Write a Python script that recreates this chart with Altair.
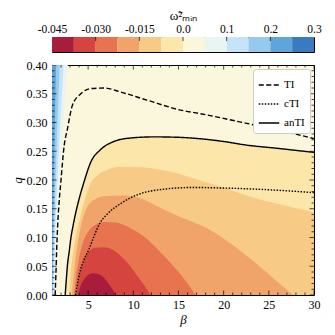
import altair as alt
import pandas as pd

FONT = "Liberation Serif"

# ---- colour bar ----
cb_labels = ["-0.045", "-0.030", "-0.015", "0.0", "0.1", "0.2", "0.3"]
cb_colors = ["#a81c3c", "#d6443f", "#e8734f", "#f0a46a", "#f7ca85", "#fde6a9",
             "#faf7dc", "#e9f5f2", "#c6e4f7", "#96c9ee", "#5ea5da", "#3a7bbf"]

# ---- negative bands (region below curve), levels -0.0375 .. 0 ----
L0_b = [2.46, 2.6, 2.71, 2.9, 3.08, 3.35, 3.64, 4.05, 4.55, 5.29, 6.39, 7.86, 9.7, 12.3, 15.4, 17.2, 20, 22.4, 26, 30]
L0_q = [0, 0.03, 0.052, 0.075, 0.098, 0.122, 0.144, 0.17, 0.197, 0.231, 0.253, 0.267, 0.273, 0.275, 0.274, 0.272, 0.267, 0.261, 0.255, 0.248]
L1_b = [2.9, 3.1, 3.4, 3.75, 4.2, 4.7, 5.3, 6.0, 7.0, 8.6, 11, 13, 15, 17.6, 19.8, 23.8, 27, 30]
L1_q = [0, 0.04, 0.08, 0.11, 0.14, 0.17, 0.195, 0.208, 0.217, 0.223, 0.222, 0.218, 0.211, 0.198, 0.188, 0.167, 0.155, 0.144]
L2_b = [3.2, 3.45, 3.75, 4.2, 4.8, 5.6, 7, 9, 11, 12.8, 15, 18.3, 21, 23.8, 26, 27.7]
L2_q = [0, 0.04, 0.08, 0.12, 0.15, 0.165, 0.172, 0.173, 0.167, 0.153, 0.137, 0.115, 0.087, 0.052, 0.022, 0]
L3_b = [3.45, 3.65, 3.95, 4.4, 5.0, 5.8, 6.8, 8, 9.5, 10.4, 11.7, 12.8, 14, 15, 16, 16.9]
L3_q = [0, 0.03, 0.06, 0.09, 0.11, 0.122, 0.127, 0.126, 0.118, 0.11, 0.095, 0.078, 0.058, 0.04, 0.02, 0]
L4_b = [3.7, 3.85, 4.0, 4.3, 4.55, 5.1, 5.8, 6.76, 7.8, 9, 10.4, 11.2, 11.9]
L4_q = [0, 0.02, 0.034, 0.05, 0.063, 0.076, 0.082, 0.083, 0.078, 0.062, 0.034, 0.017, 0]
L5_b = [3.95, 4.05, 4.2, 4.5, 5.0, 5.5, 6.0, 6.6, 7.1, 7.6, 8.05]
L5_q = [0, 0.01, 0.017, 0.026, 0.035, 0.038, 0.037, 0.032, 0.023, 0.012, 0]

# ---- positive bands at the left edge (region left of curve), levels 0.05 .. 0.2 ----
strip_q = [0, 0.1, 0.2, 0.3, 0.4]
B005 = [1.3, 1.5, 1.85, 2.25, 2.75]
B010 = [1.18, 1.32, 1.6, 1.92, 2.3]
B015 = [1.09, 1.2, 1.4, 1.6, 1.85]
B020 = [1.02, 1.08, 1.2, 1.32, 1.45]

# ---- instability curves ----
TI_b = [1.35, 1.43, 1.52, 1.61, 1.78, 1.98, 2.35, 2.71, 3.26, 4.19, 5.29, 6.76, 8.6, 11.5, 15.4, 17.2, 22.7, 26, 30]
TI_q = [0, 0.035, 0.08, 0.115, 0.16, 0.197, 0.26, 0.289, 0.33, 0.35, 0.359, 0.360, 0.353, 0.339, 0.321, 0.316, 0.298, 0.287, 0.272]
cTI_b = [3.6, 3.8, 4.0, 4.5, 5.1, 5.6, 6.2, 7.2, 8.6, 10.4, 13.4, 16.5, 20, 25, 30]
cTI_q = [0, 0.018, 0.035, 0.06, 0.08, 0.1, 0.122, 0.142, 0.159, 0.174, 0.184, 0.187, 0.186, 0.183, 0.178]
anTI_b = L0_b
anTI_q = L0_q

x_major = [5, 10, 15, 20, 25, 30]
x_minor = [v for v in range(2, 30) if v % 5 != 0]
y_major = [0.0, 0.05, 0.10, 0.15, 0.20, 0.25, 0.30, 0.35, 0.40]
y_minor = [round(i * 0.01, 2) for i in range(1, 40) if i % 5 != 0]

W, H = 262, 230
XS = alt.Scale(domain=[1, 30], nice=False, zero=False)
YS = alt.Scale(domain=[0, 0.4], nice=False, zero=False)


def plain_axis(orient, values, title, fmt, pad, tpad):
    return alt.Axis(
        orient=orient, values=values, ticks=False, domain=False, grid=False,
        labelOverlap=False, labelBound=False, labelFlush=False, labelPadding=pad, format=fmt,
        labelFont=FONT, labelFontSize=12, labelColor="black",
        title=title, titleFont=FONT, titleFontSize=13, titleFontStyle="italic",
        titleFontWeight="normal", titleColor="black", titlePadding=tpad,
    )


XAX = plain_axis("bottom", x_major, "β", "d", 4, 3)
YAX = plain_axis("left", y_major, "q", ".2f", 5, 2)

layers = []

strips = [(B005, cb_colors[7]), (B010, cb_colors[8]), (B015, cb_colors[9]), (B020, cb_colors[10])]
for bvals, col in strips:
    df = pd.DataFrame({"b": bvals, "q": strip_q})
    layers.append(
        alt.Chart(df).mark_area(orient="horizontal", color=col, clip=True).encode(
            y=alt.Y("q:Q", scale=YS, axis=YAX),
            x=alt.X("b:Q", scale=XS, axis=XAX),
            x2=alt.datum(1),
        )
    )

bands = [(L0_b, L0_q, cb_colors[5]), (L1_b, L1_q, cb_colors[4]), (L2_b, L2_q, cb_colors[3]),
         (L3_b, L3_q, cb_colors[2]), (L4_b, L4_q, cb_colors[1]), (L5_b, L5_q, cb_colors[0])]
for bvals, qvals, col in bands:
    df = pd.DataFrame({"b": bvals, "q": qvals})
    layers.append(
        alt.Chart(df).mark_area(color=col, clip=True, interpolate="monotone").encode(
            x=alt.X("b:Q", scale=XS, axis=XAX),
            y=alt.Y("q:Q", scale=YS, axis=YAX),
            y2=alt.datum(0),
        )
    )

curves = []
for name, bs, qs in [("TI", TI_b, TI_q), ("cTI", cTI_b, cTI_q), ("anTI", anTI_b, anTI_q)]:
    for i, (b, q) in enumerate(zip(bs, qs)):
        curves.append({"curve": name, "b": b, "q": q, "i": i})
curves = pd.DataFrame(curves)

lines = alt.Chart(curves).mark_line(color="black", strokeWidth=1.4, clip=True, interpolate="monotone").encode(
    x=alt.X("b:Q", scale=XS, axis=XAX),
    y=alt.Y("q:Q", scale=YS, axis=YAX),
    order=alt.Order("i:Q"),
    strokeDash=alt.StrokeDash(
        "curve:N",
        scale=alt.Scale(domain=["TI", "cTI", "anTI"], range=[[5, 2.5], [1.5, 1.5], [1, 0]]),
        legend=alt.Legend(title=None, orient="top-right", offset=4, symbolType="stroke",
                          symbolStrokeColor="black", symbolStrokeWidth=1.5, symbolSize=420,
                          labelFont=FONT, labelFontSize=11, labelColor="black",
                          fillColor="white", strokeColor="#cccccc", cornerRadius=3,
                          padding=5, rowPadding=3, zindex=2),
    ),
)
layers.append(lines)

# inward axis ticks (half of each tick is clipped by the frame)
for vals, size in [(x_major, 9), (x_minor, 5)]:
    tdf = pd.DataFrame({"b": vals})
    for edge in [0, 0.4]:
        layers.append(
            alt.Chart(tdf).mark_tick(orient="vertical", color="black", thickness=1, size=size, clip=True).encode(
                x=alt.X("b:Q", scale=XS, axis=XAX),
                y=alt.YDatum(edge, scale=YS, axis=YAX),
            )
        )
for vals, size in [(y_major, 9), (y_minor, 5)]:
    tdf = pd.DataFrame({"q": vals})
    for edge in [1, 30]:
        layers.append(
            alt.Chart(tdf).mark_tick(orient="horizontal", color="black", thickness=1, size=size, clip=True).encode(
                y=alt.Y("q:Q", scale=YS, axis=YAX),
                x=alt.XDatum(edge, scale=XS, axis=XAX),
            )
        )

main = alt.layer(*layers).properties(width=W, height=H)

# colour bar
cb_df = pd.DataFrame({"i": list(range(12)), "i2": list(range(1, 13)), "c": cb_colors})
cb_tick_df = pd.DataFrame({"i": [2, 4, 6, 8, 10]})
CBX = alt.Scale(domain=[0, 12], nice=False, zero=False)
CBY = alt.Scale(domain=[0, 1], nice=False, zero=False)
label_js = "[" + ",".join("'" + s + "'" for s in cb_labels) + "][round(datum.value/2)]"
CBAX = alt.Axis(orient="top", values=[0, 2, 4, 6, 8, 10, 12], labelExpr=label_js,
                ticks=False, domain=False, grid=False,
                labelOverlap=False, labelBound=False, labelFlush=False,
                labelPadding=3, labelFont=FONT, labelFontSize=11.5, labelColor="black",
                title="ω̃²ₘᵢₙ", titleFont=FONT, titleFontSize=13, titleFontWeight="normal",
                titleColor="black", titlePadding=1)
cb_rects = alt.Chart(cb_df).mark_rect().encode(
    x=alt.X("i:Q", scale=CBX, axis=CBAX),
    x2="i2:Q",
    y=alt.YDatum(0, scale=CBY, axis=None),
    y2=alt.Y2Datum(1),
    color=alt.Color("c:N", scale=None),
)
cb_ticks = alt.Chart(cb_tick_df).mark_tick(orient="vertical", color="black", thickness=1, size=8, clip=True).encode(
    x=alt.X("i:Q", scale=CBX, axis=CBAX),
    y=alt.YDatum(1, scale=CBY, axis=None),
)
colorbar = alt.layer(cb_rects, cb_ticks).properties(width=W, height=15)

chart = alt.vconcat(colorbar, main, spacing=5).resolve_legend(strokeDash="independent").properties(
    padding={"left": 2, "top": 0, "right": 5, "bottom": 5}
).configure_view(stroke="black", strokeWidth=1, fill=cb_colors[6])

chart.save("out.html", embed_options={"renderer": "svg", "actions": False})
